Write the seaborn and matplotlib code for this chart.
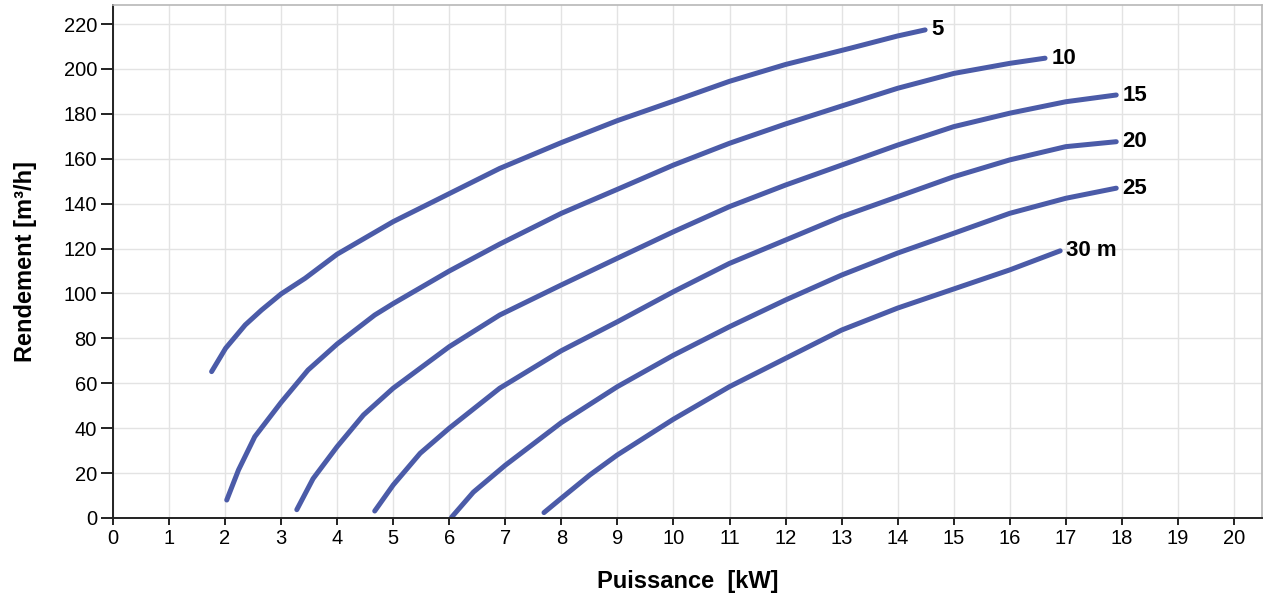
"""Pump performance curves (Rendement vs Puissance)"""
import pandas as pd
import seaborn as sns
import matplotlib.pyplot as plt

# head labels (one curve per head)
heads = ['5', '10', '15', '20', '25', '30 m']

# values
p_5 = [1.76, 2.01, 2.36, 2.65, 3.0, 3.43, 4.0, 5.0, 5.77, 6.9, 8.0, 9.0, 10.06, 11.0, 12.0, 13.15, 14.0, 14.49]
q_5 = [65.2, 75.6, 86.0, 92.6, 99.8, 106.8, 117.5, 132.0, 141.6, 155.7, 167.2, 177.0, 186.2, 194.5, 202.0, 209.2, 214.7, 217.4]

p_10 = [2.03, 2.24, 2.53, 3.0, 3.48, 4.0, 4.67, 5.0, 6.0, 6.9, 8.0, 9.0, 10.0, 11.0, 12.0, 13.0, 14.0, 15.0, 16.0, 16.63]
q_10 = [8.0, 21.4, 36.2, 51.5, 65.9, 77.5, 90.4, 95.5, 110.0, 122.0, 135.7, 146.4, 157.2, 166.9, 175.5, 183.5, 191.4, 198.0, 202.5, 204.8]

p_15 = [3.28, 3.57, 4.0, 4.47, 5.0, 6.0, 6.9, 8.0, 9.0, 10.0, 11.0, 12.0, 13.0, 14.0, 15.0, 16.0, 17.0, 17.9]
q_15 = [3.7, 17.5, 31.8, 45.9, 57.8, 76.3, 90.4, 103.8, 115.7, 127.5, 138.7, 148.3, 157.2, 166.1, 174.3, 180.3, 185.4, 188.4]

p_20 = [4.67, 5.0, 5.48, 6.0, 6.9, 8.0, 9.0, 10.0, 11.0, 12.0, 13.0, 14.0, 15.0, 16.0, 17.0, 17.9]
q_20 = [3.1, 14.7, 28.8, 40.0, 57.8, 74.5, 87.4, 100.8, 113.4, 123.8, 134.2, 143.1, 152.0, 159.5, 165.4, 167.6]

p_25 = [6.04, 6.43, 7.0, 7.5, 8.0, 9.0, 10.0, 11.0, 12.0, 13.0, 14.0, 15.0, 16.0, 17.0, 17.9]
q_25 = [0.3, 11.5, 23.5, 33.0, 42.5, 58.5, 72.5, 85.2, 97.1, 108.2, 118.0, 126.8, 135.7, 142.4, 146.9]

p_30 = [7.69, 8.0, 8.51, 9.0, 10.0, 11.0, 12.0, 13.0, 14.0, 15.0, 16.0, 16.9]
q_30 = [2.4, 8.8, 19.2, 28.1, 44.0, 58.5, 71.1, 83.7, 93.5, 102.0, 110.5, 119.0]

x_ticks = list(range(0, 21))
y_ticks = list(range(0, 221, 20))

curves = [(p_5, q_5), (p_10, q_10), (p_15, q_15), (p_20, q_20), (p_25, q_25), (p_30, q_30)]
frames = []
for name, (p, q) in zip(heads, curves):
    frames.append(pd.DataFrame({'puissance': p, 'rendement': q, 'head': name}))
df = pd.concat(frames, ignore_index=True)

sns.set_style('whitegrid')
plt.rcParams['font.family'] = ['Liberation Sans', 'DejaVu Sans']
plt.rcParams['text.color'] = 'black'
plt.rcParams['axes.labelcolor'] = 'black'

line_color = '#4B5BA8'

fig = plt.figure(figsize=(12.65, 5.93), dpi=100)
ax = fig.add_axes([0.0893, 0.1265, 0.9083, 0.8651])

for name in heads:
    sub = df[df['head'] == name]
    sns.lineplot(data=sub, x='puissance', y='rendement', ax=ax, sort=False,
                 estimator=None, color=line_color, linewidth=3.6,
                 solid_capstyle='round', solid_joinstyle='round')
    last = sub.iloc[-1]
    ax.annotate(name, (last['puissance'], last['rendement']), xytext=(4.5, 0),
                textcoords='offset points', ha='left', va='center',
                fontsize=16, fontweight='bold', color='black')

ax.set_xlim(0, 20.5)
ax.set_ylim(0, 228.5)
ax.set_xticks(x_ticks)
ax.set_yticks(y_ticks)
ax.grid(True, color='#e3e3e3', linewidth=1.0)

for side in ['left', 'bottom']:
    ax.spines[side].set_color('#222222')
    ax.spines[side].set_linewidth(1.4)
for side in ['top', 'right']:
    ax.spines[side].set_color('#b8b8b8')
    ax.spines[side].set_linewidth(1.2)

ax.tick_params(axis='y', direction='out', length=8.5, width=1.4, color='#222222',
               pad=3, labelsize=14.5, labelcolor='black', left=True)
ax.tick_params(axis='x', direction='out', length=5, width=1.4, color='#222222',
               pad=3, labelsize=14.5, labelcolor='black', bottom=True)

ax.set_xlabel('Puissance  [kW]', fontsize=17, fontweight='bold', labelpad=16)
ax.set_ylabel('Rendement [m³/h]', fontsize=17, fontweight='bold', labelpad=19)

plt.savefig('out.png', dpi=100)
plt.close()
